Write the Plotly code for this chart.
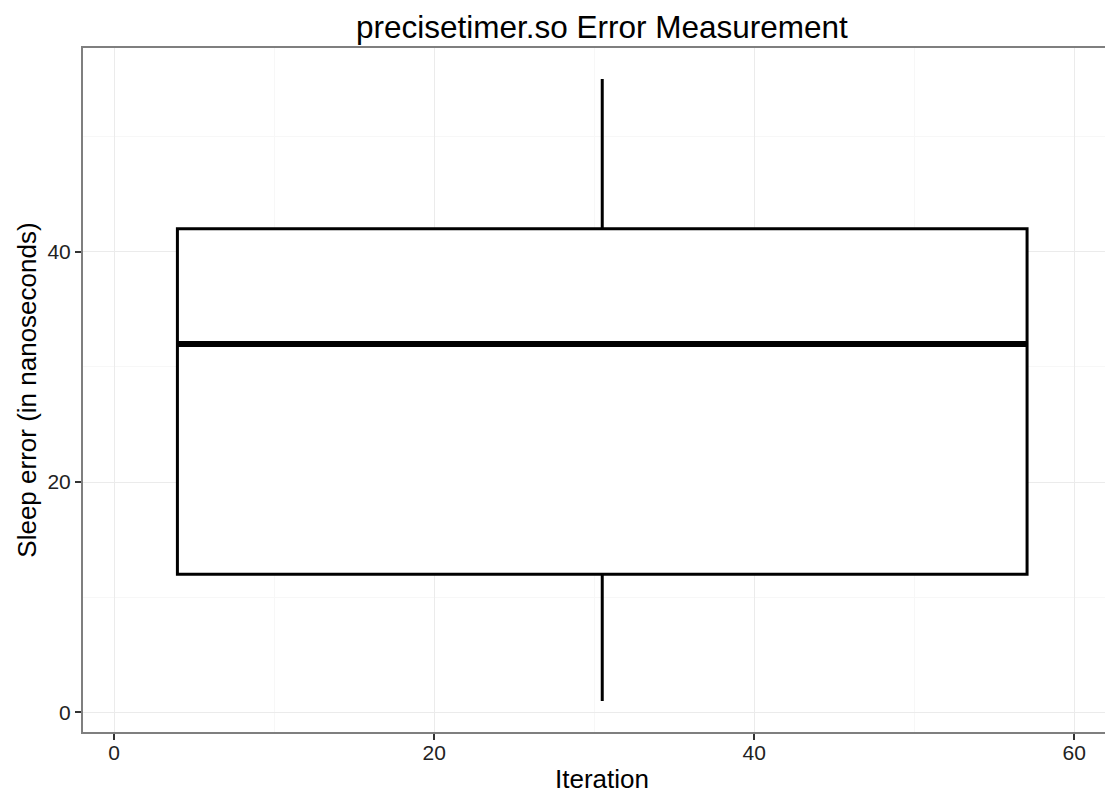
import plotly.graph_objects as go

# Data
iteration_first = 1
iteration_last = 60
lower_whisker = [1]
q1 = [12]
median = [32]
q3 = [42]
upper_whisker = [55]

x_ticks = [0, 20, 40, 60]
y_ticks = [0, 20, 40]

center = (iteration_first + iteration_last) / 2
box_width = 0.9 * (iteration_last - iteration_first)

FONT = "Liberation Sans, Arial, sans-serif"

W, H = 1105, 793
L, T, B = 83, 48, 61
PW, PH = W - L, H - T - B

fig = go.Figure()
fig.add_trace(go.Box(
    x=[center], q1=q1, median=median, q3=q3,
    lowerfence=lower_whisker, upperfence=upper_whisker,
    width=box_width, whiskerwidth=0,
    line=dict(color="black", width=3), fillcolor="white",
    boxpoints=False, showlegend=False, hoverinfo="skip",
))
fig.add_trace(go.Scatter(
    x=[center - box_width / 2, center + box_width / 2],
    y=[median[0], median[0]],
    mode="lines", line=dict(color="black", width=6),
    showlegend=False, hoverinfo="skip",
))

fig.update_layout(
    width=W, height=H,
    margin=dict(l=L, r=0, t=T, b=B, pad=0, autoexpand=False),
    paper_bgcolor="white", plot_bgcolor="white",
    font=dict(family=FONT, color="black"),
    title=dict(text="precisetimer.so Error Measurement",
               font=dict(size=31.5, color="black", family=FONT),
               x=0.5077, xanchor="center", xref="paper",
               y=1 - 27 / H, yanchor="middle", yref="container",
               automargin=False),
    annotations=[
        dict(text="Iteration", xref="paper", yref="paper", x=0.5077, y=-47.0 / PH,
             xanchor="center", yanchor="middle", showarrow=False,
             font=dict(size=26, color="black", family=FONT)),
        dict(text="Sleep error (in nanoseconds)", xref="paper", yref="paper",
             x=-56.3 / PW, y=0.5, xanchor="center", yanchor="middle",
             textangle=-90, showarrow=False,
             font=dict(size=26, color="black", family=FONT)),
    ],
)
fig.update_xaxes(
    range=[-1.95, 61.92], tickvals=x_ticks, ticktext=[str(v) for v in x_ticks],
    showgrid=True, gridcolor="#ebebeb", gridwidth=1.3,
    minor=dict(dtick=10, tick0=0, showgrid=True, gridcolor="#f7f7f7", gridwidth=1.3, ticklen=0),
    showline=True, mirror=True, linecolor="#7f7f7f", linewidth=2,
    ticks="outside", ticklen=6, tickwidth=2, tickcolor="#333333",
    tickfont=dict(size=21, color="#222222", family=FONT),
    ticklabelstandoff=-5,
    zeroline=False, automargin=False,
)
fig.update_yaxes(
    range=[-1.7, 57.7], tickvals=y_ticks, ticktext=[str(v) for v in y_ticks],
    showgrid=True, gridcolor="#ebebeb", gridwidth=1.3,
    minor=dict(dtick=10, tick0=0, showgrid=True, gridcolor="#f7f7f7", gridwidth=1.3, ticklen=0),
    showline=True, mirror=False, linecolor="#7f7f7f", linewidth=2,
    ticks="outside", ticklen=6, tickwidth=2, tickcolor="#333333",
    tickfont=dict(size=21, color="#222222", family=FONT),
    zeroline=False, automargin=False,
)

fig.write_html(
    "out.html",
    config={"displayModeBar": False},
    post_script="document.body.style.margin='0';document.documentElement.style.overflow='hidden';",
)
